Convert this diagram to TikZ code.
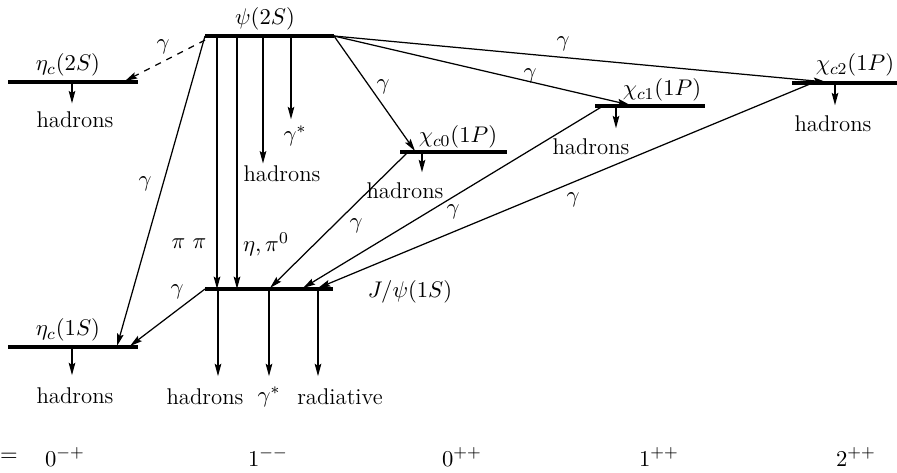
\documentclass[tikz,border=0pt]{standalone}
\usepackage{amsmath}
\usepackage{tikz}
\usetikzlibrary{arrows.meta}

\begin{document}
\begin{tikzpicture}[x=0.017cm, y=-0.017cm, font=\fontsize{11}{13}\selectfont]
    % Estilos
    \tikzstyle{level}=[line width=1.6pt, black]
    \tikzstyle{decay}=[-{Stealth[length=6pt, width=3.2pt, inset=1pt]}, line width=0.6pt, black]
    \tikzstyle{label}=[inner sep=1pt]
    \useasboundingbox (0,0) rectangle (897,472);
    % Niveles
    \draw[level] (205,36) coordinate (psiL) -- (334,36) coordinate (psiR);
    \node[label] (psilbl) at (265,19) {$\psi(2S)$};
    \draw[level] (8,82) coordinate (eta2L) -- (138,82) coordinate (eta2R);
    \node[label] (eta2lbl) at (68,65) {$\eta_c(2S)$};
    \draw[level] (400,152) coordinate (chi0L) -- (507,152) coordinate (chi0R);
    \node[label] (chi0lbl) at (458,137) {$\chi_{c0}(1P)$};
    \draw[level] (595,106) coordinate (chi1L) -- (705,106) coordinate (chi1R);
    \node[label] (chi1lbl) at (662,90) {$\chi_{c1}(1P)$};
    \draw[level] (792,83) coordinate (chi2L) -- (897,83) coordinate (chi2R);
    \node[label] (chi2lbl) at (855,65) {$\chi_{c2}(1P)$};
    \draw[level] (205,289) coordinate (jpsiL) -- (333,289) coordinate (jpsiR);
    \node[label] (jpsilbl) at (410,292) {$J/\psi(1S)$};
    \draw[level] (8,347) coordinate (eta1L) -- (138,347) coordinate (eta1R);
    \node[label] (eta1lbl) at (68,330) {$\eta_c(1S)$};
    % Puntos de llegada sobre los niveles
    \coordinate (eta2in) at (125,81);
    \coordinate (eta1in) at (117,346);
    \coordinate (eta1inb) at (130,346);
    \coordinate (chi0in) at (415,151);
    \coordinate (chi1in) at (630,105);
    \coordinate (chi2in) at (826,82);
    \coordinate (chi0out) at (408,152);
    \coordinate (chi1out) at (603,106);
    \coordinate (chi2out) at (810,84);
    \coordinate (jpsiA) at (270,288);
    \coordinate (jpsiB) at (303,288);
    \coordinate (jpsiC) at (318,288);
    % Transiciones radiativas desde psi(2S)
    \draw[decay, dashed] ([yshift=-2pt]psiL) -- (eta2in);
    \node[label] (g1) at (163,47) {$\gamma$};
    \draw[decay] (psiL) -- (eta1in);
    \node[label] (g2) at (145,184) {$\gamma$};
    \draw[decay] (psiR) -- (chi0in);
    \node[label] (g3) at (383,87) {$\gamma$};
    \draw[decay] (psiR) -- (chi1in);
    \node[label] (g4) at (530,76) {$\gamma$};
    \draw[decay] (psiR) -- (chi2in);
    \node[label] (g5) at (563,44) {$\gamma$};
    % Transiciones hadronicas psi(2S) -> J/psi(1S)
    \draw[decay] (psiL -| 217,0) -- (jpsiL -| 217,0);
    \node[label] (pipi) at (189,244) {$\pi\ \pi$};
    \draw[decay] (psiL -| 237,0) -- (jpsiL -| 237,0);
    \node[label] (etapi) at (266,244) {$\eta,\pi^0$};
    % Decaimientos de psi(2S)
    \node[label] (hadpsi) at (282,174) {hadrons};
    \draw[decay] (psiL -| 263,0) -- (hadpsi.north -| 263,0);
    \node[label] (gspsi) at (295,136) {$\gamma^*$};
    \draw[decay] (psiL -| 291,0) -- ([yshift=2pt]gspsi.north -| 291,0);
    % Transiciones chi_cJ -> J/psi(1S)
    \draw[decay] (chi0out) -- (jpsiA);
    \node[label] (g6) at (356,226) {$\gamma$};
    \draw[decay] (chi1out) -- (jpsiB);
    \node[label] (g7) at (453,212) {$\gamma$};
    \draw[decay] (chi2out) -- (jpsiC);
    \node[label] (g8) at (573,200) {$\gamma$};
    % J/psi(1S) -> eta_c(1S)
    \draw[decay] (jpsiL) -- (eta1inb);
    \node[label] (g9) at (177,292) {$\gamma$};
    % Decaimientos a hadrones
    \node[label] (hadeta2) at (75,120) {hadrons};
    \draw[decay] (eta2L -| 72,0) -- ([yshift=3pt]hadeta2.north -| 72,0);
    \node[label] (hadchi0) at (405,191) {hadrons};
    \draw[decay] (chi0L -| 422,0) -- ([yshift=4pt]hadchi0.north -| 422,0);
    \node[label] (hadchi1) at (591,147) {hadrons};
    \draw[decay] (chi1L -| 616,0) -- ([yshift=4pt]hadchi1.north -| 616,0);
    \node[label] (hadchi2) at (833,124) {hadrons};
    \draw[decay] (chi2L -| 835,0) -- ([yshift=4pt]hadchi2.north -| 835,0);
    \node[label] (hadeta1) at (75,396) {hadrons};
    \draw[decay] (eta1L -| 72,0) -- ([yshift=5pt]hadeta1.north -| 72,0);
    % Decaimientos de J/psi(1S)
    \node[label] (hadjpsi) at (205,397) {hadrons};
    \draw[decay] (jpsiL -| 218,0) -- ([yshift=5pt]hadjpsi.north -| 218,0);
    \node[label] (gsjpsi) at (269,397) {$\gamma^*$};
    \draw[decay] (jpsiL -| 269,0) -- ([yshift=5pt]hadjpsi.north -| 269,0);
    \node[label] (radjpsi) at (340,397) {radiative};
    \draw[decay] (jpsiL -| 318,0) -- ([yshift=5pt]hadjpsi.north -| 318,0);
    % Numeros cuanticos J^{PC}
    \node[label] (eq) at (9,457) {$=$};
    \node[label] (jpc1) at (65,457) {$0^{-+}$};
    \node[label] (jpc2) at (268,457) {$1^{--}$};
    \node[label] (jpc3) at (462,457) {$0^{++}$};
    \node[label] (jpc4) at (659,457) {$1^{++}$};
    \node[label] (jpc5) at (856,457) {$2^{++}$};
\end{tikzpicture}
\end{document}
